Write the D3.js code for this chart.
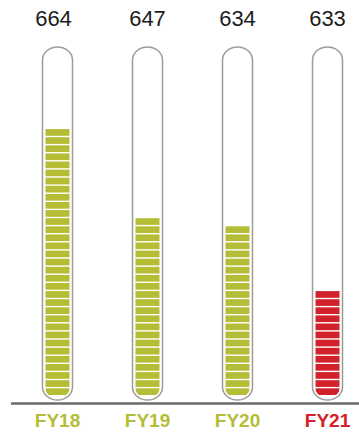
<!DOCTYPE html>
<html>
<head>
<meta charset="utf-8">
<script src="https://cdn.jsdelivr.net/npm/d3@7"></script>
<style>
  html, body { margin: 0; padding: 0; background: #fff; }
  svg { display: block; }
</style>
</head>
<body>
<script>
// Fiscal years shown as test tubes
const categories = ["FY18", "FY19", "FY20", "FY21"];
// Totals printed above each tube
const totals = [664, 647, 634, 633];
// Fill level of each tube, in stacked segments
const segments = [33, 22, 21, 13];
// Highlight flag per year (last year drawn in red)
const highlight = [false, false, false, true];

const W = 359, H = 432;
const green = "#b5bd36", red = "#d1222b";

const svg = d3.select("body").append("svg")
  .attr("width", W).attr("height", H);

const x = d3.scalePoint().domain(categories).range([12.5, 372.5]).padding(0.5);
const capacity = 43;
const y = d3.scaleLinear().domain([0, capacity]).range([395, 395 - capacity * 8.1]);

const tubeHalf = 15, tubeTop = 47, tubeBottom = 400;
const gap = 1.4;

const defs = svg.append("defs");

categories.forEach((c, i) => {
  const cx = x(c);
  const g = svg.append("g");

  defs.append("clipPath").attr("id", "tube-" + i)
    .append("rect")
    .attr("x", cx - 12.5).attr("y", tubeTop + 2)
    .attr("width", 25).attr("height", tubeBottom - tubeTop - 4)
    .attr("rx", 12.5).attr("ry", 11);

  // tube glass
  g.append("rect")
    .attr("x", cx - tubeHalf).attr("y", tubeTop)
    .attr("width", tubeHalf * 2).attr("height", tubeBottom - tubeTop)
    .attr("rx", tubeHalf).attr("ry", 13)
    .attr("fill", "#fff").attr("stroke", "#9c9c9c").attr("stroke-width", 1.5);

  // stacked fill segments
  const color = highlight[i] ? red : green;
  g.append("g").attr("clip-path", "url(#tube-" + i + ")")
    .selectAll("rect")
    .data(d3.range(segments[i]))
    .join("rect")
    .attr("x", cx - 12).attr("width", 24)
    .attr("y", k => y(k + 1) + gap)
    .attr("height", k => y(k) - y(k + 1) - gap)
    .attr("fill", color);

  // total above tube
  svg.append("text")
    .attr("x", cx - (i === 0 ? 4 : 0)).attr("y", 26)
    .attr("text-anchor", "middle")
    .attr("font-family", "'Liberation Sans', Arial, sans-serif")
    .attr("font-size", 22)
    .attr("fill", "#1c1c1c")
    .text(totals[i]);

  // year label
  svg.append("text")
    .attr("x", cx).attr("y", 427)
    .attr("text-anchor", "middle")
    .attr("font-family", "'Liberation Sans', Arial, sans-serif")
    .attr("font-size", 19)
    .attr("font-weight", "bold")
    .attr("fill", color)
    .text(c);
});

// baseline
svg.append("line")
  .attr("x1", 11).attr("x2", W)
  .attr("y1", 403.5).attr("y2", 403.5)
  .attr("stroke", "#6b6b6b").attr("stroke-width", 2.5);
</script>
</body>
</html>
